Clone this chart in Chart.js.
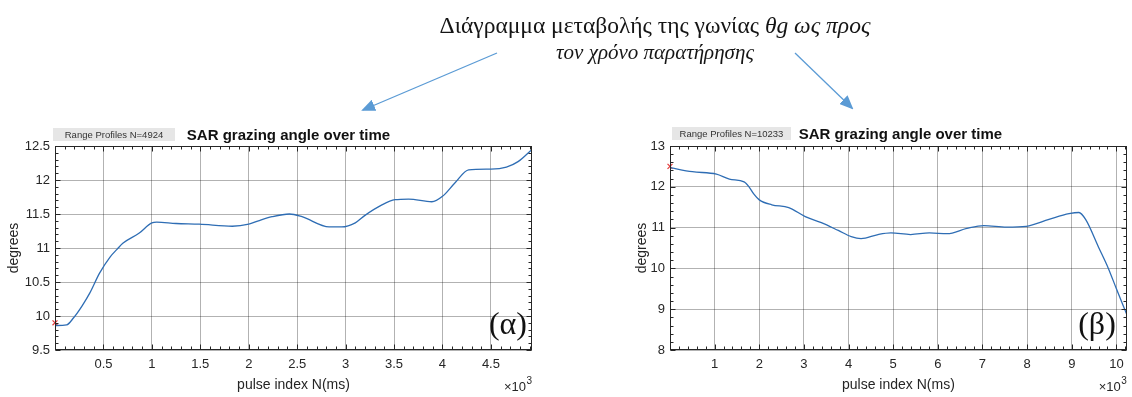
<!DOCTYPE html>
<html>
<head>
<meta charset="utf-8">
<script src="https://cdn.jsdelivr.net/npm/chart.js@4.4.1/dist/chart.umd.min.js"></script>
<style>
  body { margin: 0; background: #fff; }
  #wrap { position: relative; width: 1132px; height: 397px; overflow: hidden; }
  #wrap canvas { position: absolute; top: 0; }
  #chartA { left: 0; }
  #chartB { left: 600px; }
  .note { position: absolute; left: 355px; width: 600px; text-align: center; line-height: 1;
          font-family: 'Liberation Serif', 'DejaVu Serif', serif; color: #151515; white-space: nowrap; }
  #arrows { position: absolute; left: 0; top: 0; pointer-events: none; }
</style>
</head>
<body>
<div id="wrap">
  <canvas id="chartA" width="560" height="397"></canvas>
  <canvas id="chartB" width="532" height="397"></canvas>
  <div class="note" style="top:14px;font-size:23.5px;">Διάγραμμα μεταβολής της γωνίας <i>θg ως προς</i></div>
  <div class="note" style="top:42px;font-size:21px;"><i>τον χρόνο παρατήρησης</i></div>
  <svg id="arrows" width="1132" height="397">
    <defs>
      <marker id="head" markerWidth="14" markerHeight="12" refX="12" refY="6" orient="auto" markerUnits="userSpaceOnUse">
        <path d="M0,0 L14,6 L0,12 z" fill="#5b9bd5"/>
      </marker>
    </defs>
    <line x1="497" y1="53" x2="363" y2="110" stroke="#5b9bd5" stroke-width="1.3" marker-end="url(#head)"/>
    <line x1="795" y1="53" x2="852" y2="108" stroke="#5b9bd5" stroke-width="1.3" marker-end="url(#head)"/>
  </svg>
</div>
<script>
// --- data: grazing angle (deg) against pulse index ---
const pulsesA = [0, 120, 190, 280, 360, 460, 570, 640, 700, 870, 1000, 1050, 1250, 1490, 1830, 2000,
                 2100, 2240, 2420, 2550, 2830, 2960, 3100, 3200, 3370, 3510, 3650, 3890, 4000, 4130,
                 4270, 4500, 4660, 4780, 4924];
const angleA  = [9.86, 9.87, 9.97, 10.15, 10.34, 10.63, 10.87, 10.98, 11.07, 11.22, 11.37, 11.38, 11.36,
                 11.35, 11.32, 11.35, 11.40, 11.46, 11.50, 11.46, 11.31, 11.31, 11.37, 11.48, 11.63,
                 11.71, 11.72, 11.68, 11.76, 11.96, 12.15, 12.16, 12.19, 12.27, 12.45];
const startA = { x: 0, y: 9.9 };

const pulsesB = [0, 500, 1040, 1330, 1660, 1770, 1880, 2000, 2280, 2660, 3030, 3390, 3770, 4060, 4280,
                 4660, 4950, 5390, 5810, 6210, 6650, 7030, 7540, 7980, 8490, 8940, 9160, 9310, 9600,
                 9820, 10000, 10233];
const angleB  = [12.47, 12.37, 12.31, 12.19, 12.12, 12.0, 11.82, 11.68, 11.56, 11.49, 11.27, 11.12,
                 10.93, 10.78, 10.73, 10.83, 10.87, 10.83, 10.87, 10.85, 10.98, 11.05, 11.01, 11.03,
                 11.20, 11.34, 11.37, 11.20, 10.52, 10.00, 9.50, 8.87];
const startB = { x: 0, y: 12.5 };

// tick labels (x shown in thousands)
const xTicksA = [500, 1000, 1500, 2000, 2500, 3000, 3500, 4000, 4500];
const xTicksB = [1000, 2000, 3000, 4000, 5000, 6000, 7000, 8000, 9000, 10000];

const INK = '#262626';
const SANS = "'Liberation Sans', Arial, sans-serif";

// frame, inward ticks, titles and panel letter drawn over each plot
const panelDecor = {
  id: 'panelDecor',
  afterDraw(chart, args, o) {
    const { ctx, chartArea: a, scales: { x, y } } = chart;
    const L = Math.round(a.left) + 0.5, R = Math.round(a.right) - 0.5;
    const T = Math.round(a.top) + 0.5, B = Math.round(a.bottom) - 0.5;
    ctx.save();
    ctx.strokeStyle = INK;
    ctx.lineWidth = 1;
    ctx.beginPath();
    // minor + major ticks along x
    for (let v = x.min; v <= x.max; v += o.xMinor) {
      const px = Math.round(x.getPixelForValue(v)) + 0.5;
      const len = o.xMajor.includes(Math.round(v)) ? 5 : 3;
      ctx.moveTo(px, B); ctx.lineTo(px, B - len);
      ctx.moveTo(px, T); ctx.lineTo(px, T + len);
    }
    for (let v = y.min; v <= y.max + 1e-9; v += o.yMinor) {
      const py = Math.round(y.getPixelForValue(v)) + 0.5;
      const len = Math.abs(v / o.yMajor - Math.round(v / o.yMajor)) < 1e-6 ? 5 : 3;
      ctx.moveTo(L, py); ctx.lineTo(L + len, py);
      ctx.moveTo(R, py); ctx.lineTo(R - len, py);
    }
    ctx.stroke();
    ctx.strokeRect(L, T, R - L, B - T);

    // gray info box + title
    ctx.fillStyle = '#e6e6e6';
    ctx.fillRect(o.boxX, o.boxY, o.boxW, 13);
    ctx.fillStyle = '#333';
    ctx.font = '9.5px ' + SANS;
    ctx.textAlign = 'center';
    ctx.textBaseline = 'middle';
    ctx.fillText(o.boxText, o.boxX + o.boxW / 2, o.boxY + 7);
    ctx.fillStyle = '#111';
    ctx.font = 'bold 15px ' + SANS;
    ctx.textBaseline = 'alphabetic';
    ctx.fillText('SAR grazing angle over time', (a.left + a.right) / 2 + o.titleDx, o.titleY);

    // ×10³ exponent under the x axis
    ctx.fillStyle = INK;
    ctx.textAlign = 'right';
    ctx.font = '10px ' + SANS;
    ctx.fillText('3', a.right, 384);
    ctx.font = '13px ' + SANS;
    ctx.fillText('×10', a.right - 6, 391);

    // panel letter
    ctx.fillStyle = '#111';
    ctx.font = '32px "Liberation Serif", serif';
    ctx.fillText(o.letter, a.right - o.letterDx, 334);
    ctx.restore();
  }
};

function buildPanel(id, xs, ys, start, xMax, yMin, yMax, yStep, xTicks, decor, padLeft, yWidth, padRight) {
  const line = xs.map((v, i) => ({ x: v, y: ys[i] }));
  return new Chart(document.getElementById(id), {
    type: 'scatter',
    data: {
      datasets: [
        { data: line, showLine: true, borderColor: '#2e6db4', borderWidth: 1.3,
          pointRadius: 0, cubicInterpolationMode: 'monotone' },
        { data: [start], showLine: false, pointStyle: 'crossRot', pointRadius: 3.5,
          borderColor: '#e23b3b', borderWidth: 1.2, clip: false }
      ]
    },
    options: {
      responsive: false,
      animation: false,
      devicePixelRatio: 1,
      layout: { padding: { top: 146, left: padLeft, right: padRight, bottom: 0 } },
      plugins: { legend: { display: false }, tooltip: { enabled: false }, panelDecor: decor },
      scales: {
        x: {
          type: 'linear', min: 0, max: xMax,
          afterFit: s => { s.height = 47; },
          afterBuildTicks: s => { s.ticks = xTicks.map(v => ({ value: v })); },
          grid: { color: 'rgba(0,0,0,0.3)', drawTicks: false },
          border: { display: false },
          ticks: { padding: 7, color: INK, font: { family: SANS, size: 13 },
                   maxRotation: 0, callback: v => String(v / 1000) },
          title: { display: true, text: 'pulse index N(ms)', color: INK,
                   font: { family: SANS, size: 14 }, padding: { top: 0, bottom: 3 } }
        },
        y: {
          min: yMin, max: yMax,
          afterFit: s => { s.width = yWidth; },
          grid: { color: 'rgba(0,0,0,0.3)', drawTicks: false },
          border: { display: false },
          ticks: { stepSize: yStep, padding: 5, color: INK, font: { family: SANS, size: 13 },
                   callback: v => String(Math.round(v * 10) / 10) },
          title: { display: true, text: 'degrees', color: INK,
                   font: { family: SANS, size: 14 }, padding: { top: 6, bottom: 0 } }
        }
      }
    },
    plugins: [panelDecor]
  });
}

buildPanel('chartA', pulsesA, angleA, startA, 4924, 9.5, 12.5, 0.5, xTicksA,
  { xMinor: 100, xMajor: xTicksA, yMinor: 0.1, yMajor: 0.5, boxX: 53, boxY: 128, boxW: 122,
    boxText: 'Range Profiles N=4924', titleDx: -5, titleY: 140, letter: '(α)', letterDx: 5 },
  0, 55, 28);

buildPanel('chartB', pulsesB, angleB, startB, 10233, 8, 13, 1, xTicksB,
  { xMinor: 200, xMajor: xTicksB, yMinor: 0.2, yMajor: 1, boxX: 72, boxY: 127, boxW: 119,
    boxText: 'Range Profiles N=10233', titleDx: 2, titleY: 139, letter: '(β)', letterDx: 11 },
  28, 42, 1);
</script>
</body>
</html>
